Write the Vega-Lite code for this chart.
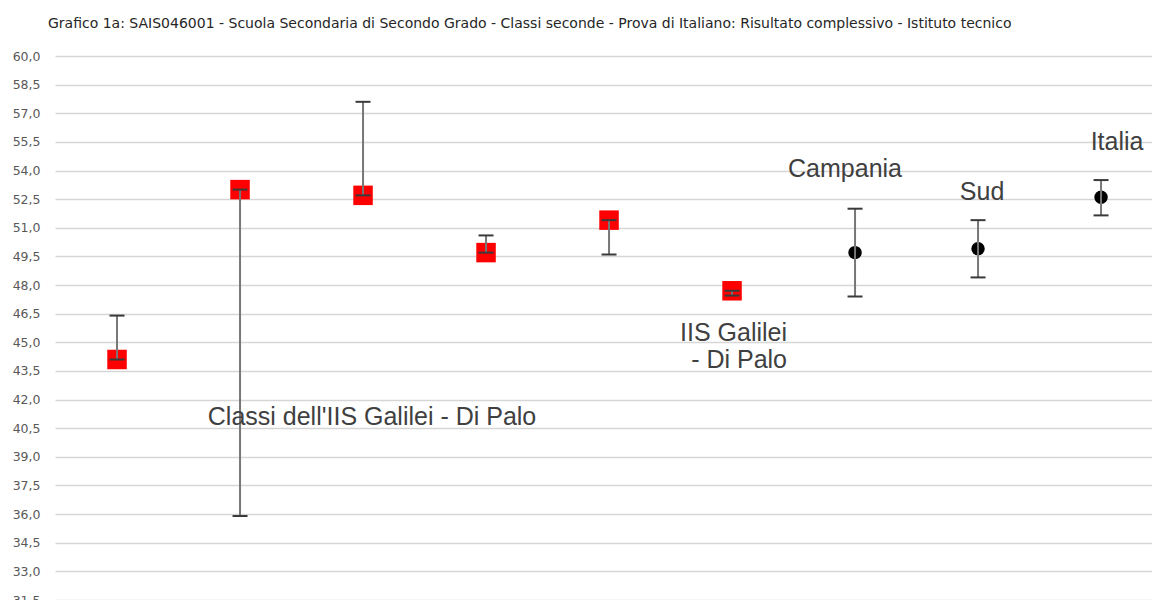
{
  "$schema": "https://vega.github.io/schema/vega-lite/v6.json",
  "autosize": {"type": "none"},
  "padding": {"left": 55, "top": 56, "right": 0, "bottom": 0},
  "width": 1097,
  "height": 544,
  "background": "white",
  "title": {
    "text": "Grafico 1a: SAIS046001 - Scuola Secondaria di Secondo Grado - Classi seconde - Prova di Italiano: Risultato complessivo - Istituto tecnico",
    "anchor": "start",
    "frame": "group",
    "dx": -7,
    "offset": 19,
    "font": "DejaVu Sans",
    "fontSize": 14,
    "fontWeight": "normal",
    "color": "#262626"
  },
  "datasets": {
    "punti": [
      {"gruppo": "Classe 1", "tipo": "Classi", "valore": 44.1, "min": 44.1, "max": 46.4},
      {"gruppo": "Classe 2", "tipo": "Classi", "valore": 53.0, "min": 35.9, "max": 53.0},
      {"gruppo": "Classe 3", "tipo": "Classi", "valore": 52.7, "min": 52.7, "max": 57.6},
      {"gruppo": "Classe 4", "tipo": "Classi", "valore": 49.7, "min": 49.7, "max": 50.6},
      {"gruppo": "Classe 5", "tipo": "Classi", "valore": 51.4, "min": 49.6, "max": 51.4},
      {"gruppo": "IIS Galilei - Di Palo", "tipo": "Classi", "valore": 47.7, "min": 47.45, "max": 47.7},
      {"gruppo": "Campania", "tipo": "Riferimento", "valore": 49.7, "min": 47.4, "max": 52.0},
      {"gruppo": "Sud", "tipo": "Riferimento", "valore": 49.9, "min": 48.4, "max": 51.4},
      {"gruppo": "Italia", "tipo": "Riferimento", "valore": 52.6, "min": 51.65, "max": 53.5}
    ],
    "etichette": [
      {"gruppo": "Classe 3", "etichetta": "Classi dell'IIS Galilei - Di Palo", "y": 41.1},
      {"gruppo": "IIS Galilei - Di Palo", "etichetta": "IIS Galilei\n - Di Palo", "y": 45.49},
      {"gruppo": "Campania", "etichetta": "Campania", "y": 54.07},
      {"gruppo": "Sud", "etichetta": "Sud", "y": 52.89},
      {"gruppo": "Italia", "etichetta": "Italia", "y": 55.51}
    ]
  },
  "encoding": {
    "x": {
      "field": "gruppo",
      "type": "nominal",
      "sort": null,
      "scale": {
        "type": "point",
        "domain": ["Classe 1", "Classe 2", "Classe 3", "Classe 4", "Classe 5", "IIS Galilei - Di Palo", "Campania", "Sud", "Italia"],
        "padding": 0.4593,
        "align": 0.549
      },
      "axis": null
    }
  },
  "layer": [
    {
      "data": {"name": "punti"},
      "mark": {"type": "point", "filled": true, "opacity": 1},
      "encoding": {
        "y": {
          "field": "valore",
          "type": "quantitative",
          "scale": {"domain": [31.5, 60], "zero": false, "nice": false},
          "axis": {
            "title": null,
            "values": [31.5, 33, 34.5, 36, 37.5, 39, 40.5, 42, 43.5, 45, 46.5, 48, 49.5, 51, 52.5, 54, 55.5, 57, 58.5, 60],
            "tickCount": 40,
            "labelExpr": "replace(format(datum.value, '.1f'), '.', ',')",
            "labelOverlap": false,
            "labelBound": false,
            "labelFlush": false,
            "domain": false,
            "ticks": false,
            "grid": true,
            "gridColor": "#d6d6d6",
            "gridWidth": 1.5,
            "labelFont": "DejaVu Sans",
            "labelFontSize": 12.5,
            "labelColor": "#595959",
            "labelPadding": 15
          }
        },
        "shape": {
          "field": "tipo",
          "type": "nominal",
          "scale": {"domain": ["Classi", "Riferimento"], "range": ["square", "circle"]},
          "legend": null
        },
        "color": {
          "field": "tipo",
          "type": "nominal",
          "scale": {"domain": ["Classi", "Riferimento"], "range": ["#ff0000", "#000000"]},
          "legend": null
        },
        "size": {
          "field": "tipo",
          "type": "nominal",
          "scale": {"domain": ["Classi", "Riferimento"], "range": [380, 180]},
          "legend": null
        }
      }
    },
    {
      "data": {"name": "punti"},
      "mark": {"type": "rule", "color": "#777777", "strokeWidth": 2},
      "encoding": {
        "y": {"field": "min", "type": "quantitative"},
        "y2": {"field": "max"}
      }
    },
    {
      "data": {"name": "punti"},
      "mark": {"type": "tick", "color": "#3a3a3a", "thickness": 2, "size": 15, "opacity": 1},
      "encoding": {
        "y": {"field": "min", "type": "quantitative"}
      }
    },
    {
      "data": {"name": "punti"},
      "mark": {"type": "tick", "color": "#3a3a3a", "thickness": 2, "size": 15, "opacity": 1},
      "encoding": {
        "y": {"field": "max", "type": "quantitative"}
      }
    },
    {
      "data": {"name": "etichette"},
      "transform": [{"filter": "datum.gruppo === 'Classe 3'"}],
      "mark": {"type": "text", "font": "Liberation Sans", "fontSize": 25, "color": "#404040", "align": "center", "baseline": "middle", "dx": 9},
      "encoding": {"y": {"field": "y", "type": "quantitative"}, "text": {"field": "etichetta"}}
    },
    {
      "data": {"name": "etichette"},
      "transform": [{"filter": "datum.gruppo === 'IIS Galilei - Di Palo'"}],
      "mark": {"type": "text", "font": "Liberation Sans", "fontSize": 25, "color": "#404040", "align": "right", "baseline": "middle", "dx": 55, "lineBreak": "\n", "lineHeight": 27},
      "encoding": {"y": {"field": "y", "type": "quantitative"}, "text": {"field": "etichetta"}}
    },
    {
      "data": {"name": "etichette"},
      "transform": [{"filter": "datum.gruppo === 'Campania'"}],
      "mark": {"type": "text", "font": "Liberation Sans", "fontSize": 25, "color": "#404040", "align": "center", "baseline": "middle", "dx": -10},
      "encoding": {"y": {"field": "y", "type": "quantitative"}, "text": {"field": "etichetta"}}
    },
    {
      "data": {"name": "etichette"},
      "transform": [{"filter": "datum.gruppo === 'Sud'"}],
      "mark": {"type": "text", "font": "Liberation Sans", "fontSize": 25, "color": "#404040", "align": "center", "baseline": "middle", "dx": 4},
      "encoding": {"y": {"field": "y", "type": "quantitative"}, "text": {"field": "etichetta"}}
    },
    {
      "data": {"name": "etichette"},
      "transform": [{"filter": "datum.gruppo === 'Italia'"}],
      "mark": {"type": "text", "font": "Liberation Sans", "fontSize": 25, "color": "#404040", "align": "center", "baseline": "middle", "dx": 16},
      "encoding": {"y": {"field": "y", "type": "quantitative"}, "text": {"field": "etichetta"}}
    }
  ],
  "config": {"view": {"stroke": null}}
}
